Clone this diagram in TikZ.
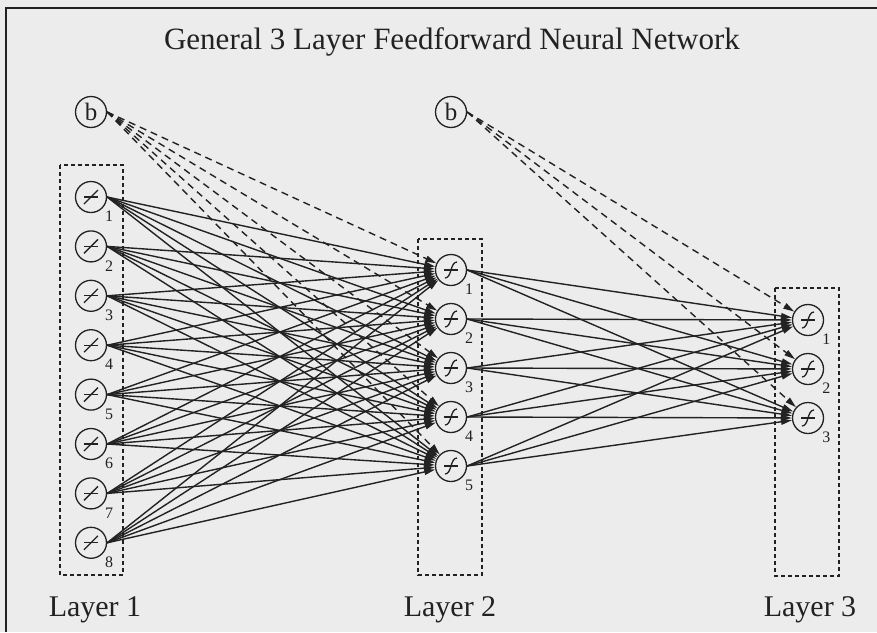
\documentclass[tikz,border=0pt]{standalone}
\usepackage{fontspec}
\setmainfont{Liberation Serif}
\usetikzlibrary{arrows.meta}

\definecolor{ink}{HTML}{222222}
\definecolor{paper}{HTML}{ECECEC}

\begin{document}
\begin{tikzpicture}[
  x=1pt, y=-1pt,
  font=\fontsize{30}{36}\selectfont, text=ink,
  neuron/.style={draw=ink, circle, line width=1.3pt, minimum size=31pt, inner sep=0pt},
  linear/.style={neuron, path picture={
      \draw[ink, line width=1.3pt] (path picture bounding box.center) ++(-7pt,0pt) -- ++(14pt,0pt);
      \draw[ink, line width=1.3pt] (path picture bounding box.center) ++(-7pt,-7pt) -- ++(14pt,14pt);}},
  sigmoid/.style={neuron, path picture={
      \draw[ink, line width=1.3pt] (path picture bounding box.center) ++(-7pt,0pt) -- ++(14pt,0pt);
      \draw[ink, line width=1.3pt] (path picture bounding box.center) ++(-6pt,-8pt)
        .. controls +(7pt,0pt) and +(-7pt,0pt) .. ++(12pt,16pt);}},
  bias/.style={neuron, font=\fontsize{25}{25}\selectfont},
  sub/.style={font=\fontsize{16}{16}\selectfont, inner sep=0.5pt, label distance=3pt},
  layerbox/.style={draw=ink, line width=1.2pt, dash pattern=on 4pt off 3pt},
  wire/.style={draw=ink, line width=1.4pt, -{Triangle[length=11pt,width=6pt]}},
  biaswire/.style={wire, dash pattern=on 7pt off 5pt}
]

\useasboundingbox (0,0) rectangle (877,632);
\fill[paper] (0,0) rectangle (877,632);
\draw[ink, line width=2.5pt] (6,632) -- (6,8) -- (877,8);

\node[anchor=base, font=\fontsize{31}{36}\selectfont] (title) at (452,49) {General 3 Layer Feedforward Neural Network};

% layer boxes
\draw[layerbox] (60,165) rectangle (123,575);
\draw[layerbox] (418,239) rectangle (482,575);
\draw[layerbox] (775,288) rectangle (839,576);

% neurons
\foreach \i in {1,...,8}
  \node[linear, label={[sub]-45:\i}] (in\i) at (91,{197+49.4*(\i-1)}) {};
\foreach \i in {1,...,5}
  \node[sigmoid, label={[sub]-45:\i}] (hid\i) at (451,{270+49*(\i-1)}) {};
\foreach \i in {1,...,3}
  \node[sigmoid, label={[sub]-45:\i}] (out\i) at (808,{320+49*(\i-1)}) {};

\node[bias] (b1) at (91,112) {b};
\node[bias] (b2) at (451,112) {b};

% connections
\foreach \i in {1,...,8}
  \foreach \j in {1,...,5}
    \draw[wire] (in\i.east) -- (hid\j);
\foreach \i in {1,...,5}
  \foreach \j in {1,...,3}
    \draw[wire] (hid\i.east) -- (out\j);
\foreach \j in {1,...,5}
  \draw[biaswire] (b1.east) -- (hid\j);
\foreach \j in {1,...,3}
  \draw[biaswire] (b2.east) -- (out\j);

\node[anchor=base] (lay1) at (95,616) {Layer 1};
\node[anchor=base] (lay2) at (450,616) {Layer 2};
\node[anchor=base] (lay3) at (810,616) {Layer 3};
\end{tikzpicture}
\end{document}
